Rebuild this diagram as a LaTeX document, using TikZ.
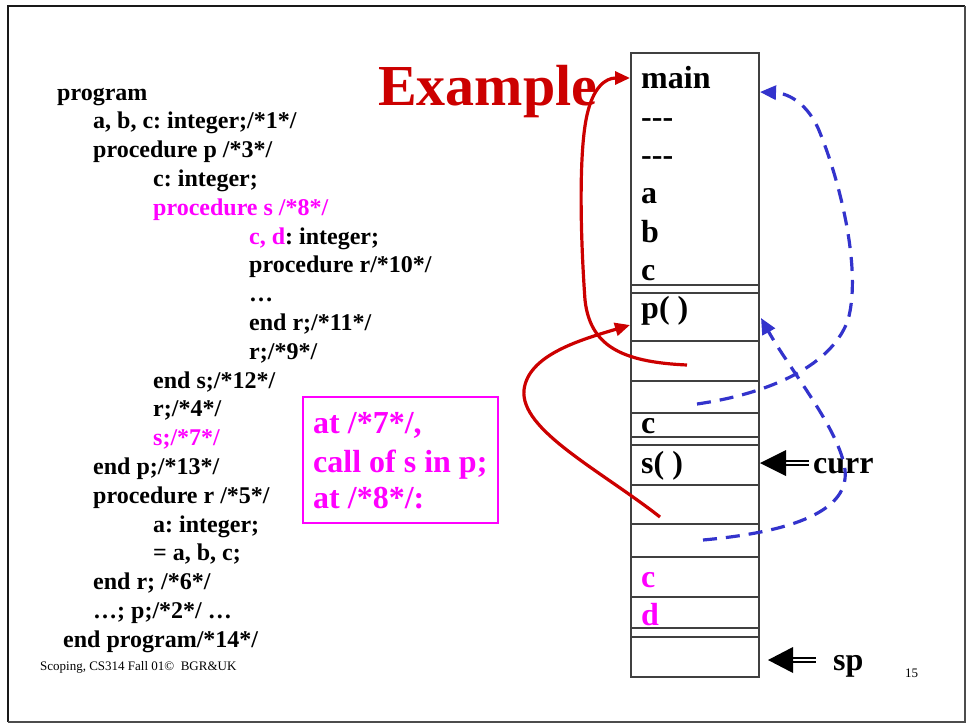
\documentclass[tikz,border=0pt]{standalone}
\usepackage{fontspec}
\setmainfont{Liberation Serif}
\usetikzlibrary{arrows.meta}
\definecolor{redc}{HTML}{CC0000}
\definecolor{mag}{HTML}{FF00FF}
\definecolor{bluec}{HTML}{3333CC}
\frenchspacing
\begin{document}
\begin{tikzpicture}[x=1pt,y=-1pt,
  code/.style={anchor=base west, inner sep=0pt, font=\fontsize{24}{24}\selectfont\bfseries},
  lbl/.style={anchor=base west, inner sep=0pt, font=\fontsize{32}{32}\selectfont\bfseries},
  small/.style={anchor=base west, inner sep=0pt, font=\fontsize{13}{13}\selectfont},
  redarrow/.style={draw=redc, line width=3.2pt, -{Triangle[length=15pt,width=13pt]}},
  bluearrow/.style={draw=bluec, line width=3.2pt, dash pattern=on 14pt off 9pt, -{Triangle[length=16pt,width=14pt]}},
  cell/.style={draw=black!75, line width=1.2pt},
  ptrtip/.style={fill=black},
  shaft/.style={line width=1.7pt}]
\useasboundingbox (0,0) rectangle (966,723);
% frame
\draw[line width=2.4pt, black!90] (8,722) -- (8,6) -- (965,6);
\draw[line width=1.4pt, black!70] (8,722) -- (965,722) -- (965,6);

% title
\node[anchor=base west, inner sep=0pt, text=redc, font=\fontsize{58}{58}\selectfont\bfseries] (title) at (378,105) {Example};

% code
\node[code] (l0) at (57,100) {program};
\node[code] (l1) at (93,128.8) {a, b, c: integer;/*1*/};
\node[code] (l2) at (93,157.6) {procedure p /*3*/};
\node[code] (l3) at (153,186.4) {c: integer;};
\node[code, text=mag] (l4) at (153,215.2) {procedure s /*8*/};
\node[code] (l5) at (249,244) {\textcolor{mag}{c, d}: integer;};
\node[code] (l6) at (249,272.8) {procedure r/*10*/};
\node[code] (l7) at (249,301.6) {…};
\node[code] (l8) at (249,330.4) {end r;/*11*/};
\node[code] (l9) at (249,359.2) {r;/*9*/};
\node[code] (l10) at (153,388) {end s;/*12*/};
\node[code] (l11) at (153,416.8) {r;/*4*/};
\node[code, text=mag] (l12) at (153,445.6) {s;/*7*/};
\node[code] (l13) at (93,474.4) {end p;/*13*/};
\node[code] (l14) at (93,503.2) {procedure r /*5*/};
\node[code] (l15) at (153,532) {a: integer;};
\node[code] (l16) at (153,560.8) {= a, b, c;};
\node[code] (l17) at (93,589.6) {end r; /*6*/};
\node[code] (l18) at (93,618.4) {…; p;/*2*/ …};
\node[code] (l19) at (63,647.2) {end program/*14*/};

\node[small] (foot) at (40,670) {Scoping, CS314 Fall 01©\ \ BGR\&UK};
\node[small] (pnum) at (905,677) {15};

% magenta note box
\draw[mag, line width=1.2pt] (303,397) rectangle (498,523);
\node[lbl, text=mag] (n1) at (313,433) {at /*7*/,};
\node[lbl, text=mag] (n2) at (313,472) {call of s in p;};
\node[lbl, text=mag] (n3) at (313,508) {at /*8*/:};

% stack
\draw[cell] (631,53) rectangle (759,677);
\foreach \yy in {285,293,341,381,413,437,445,485,524,557,597,628,637}
  \draw[cell] (631,\yy) -- (759,\yy);

\node[lbl] (smain) at (641,88) {main};
\node[lbl] (sd1) at (641,127) {-{}-{}-};
\node[lbl] (sd2) at (641,165) {-{}-{}-};
\node[lbl] (sa) at (641,203) {a};
\node[lbl] (sb) at (641,242) {b};
\node[lbl] (sc) at (641,280) {c};
\node[lbl] (sp1) at (641,318) {p( )};
\node[lbl] (sc2) at (641,433) {c};
\node[lbl] (ss) at (641,473) {s( )};
\node[lbl, text=mag] (sc3) at (641,587) {c};
\node[lbl, text=mag] (sd) at (641,625) {d};

% pointers curr / sp
\node[lbl] (curr) at (813,473) {curr};
\node[lbl] (spl) at (833,670) {sp};
\coordinate (currtip) at (760,463);
\coordinate (sptip) at (768,660);
\fill[ptrtip] (currtip) -- (786,450) -- (786,476) -- cycle;
\draw[shaft] (785,460.9) -- (809,460.9);
\draw[shaft] (785,465.1) -- (809,465.1);
\fill[ptrtip] (sptip) -- (793,647) -- (793,673) -- cycle;
\draw[shaft] (792,657.9) -- (816,657.9);
\draw[shaft] (792,662.1) -- (816,662.1);

% link endpoints
\coordinate (r1s) at (687,365);
\coordinate (r1e) at (630,78);
\coordinate (r2s) at (660,517);
\coordinate (r2e) at (630,325);
\coordinate (b1s) at (697,404);
\coordinate (b1e) at (760,92);
\coordinate (b2s) at (703,540);
\coordinate (b2e) at (761,318);

% red (dynamic) links
\draw[redarrow] (r1s) .. controls (620,362) and (590,345) .. (585,300)
  .. controls (580,230) and (579,150) .. (587,115)
  .. controls (593,88) and (605,78) .. (r1e);
\draw[redarrow] (r2s) .. controls (600,470) and (520,430) .. (524,390)
  .. controls (528,355) and (580,340) .. (r2e);

% blue (static) links
\draw[bluearrow] (b1s) .. controls (760,395) and (830,370) .. (848,320)
  .. controls (862,270) and (840,180) .. (818,128)
  .. controls (805,100) and (785,93) .. (b1e);
\draw[bluearrow] (b2s) .. controls (780,533) and (850,515) .. (845,470)
  .. controls (840,430) and (790,370) .. (b2e);
\end{tikzpicture}
\end{document}
